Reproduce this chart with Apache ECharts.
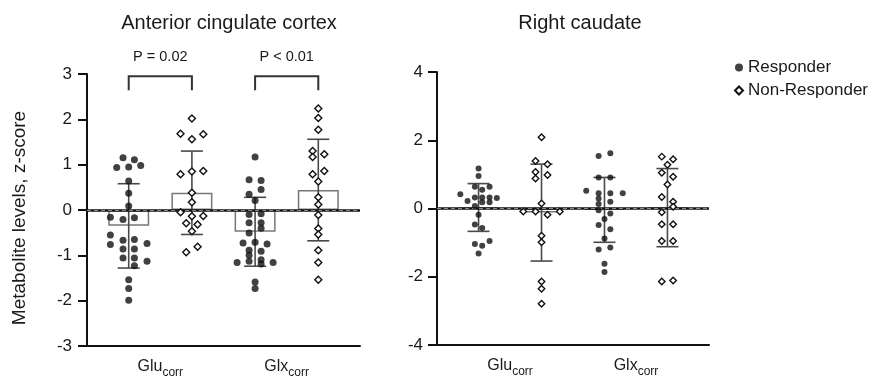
<!DOCTYPE html>
<html><head><meta charset="utf-8">
<script src="https://cdn.jsdelivr.net/npm/echarts@6/dist/echarts.min.js"></script>
<style>html,body{margin:0;padding:0;background:#fff}#c{width:876px;height:380px}</style>
</head><body><div id="c"></div>
<script>
// ---------- data ----------
const categories = ['Glu', 'Glx'];
const categorySub = 'corr';
const groupNames = ['Responder', 'Non-Responder'];
const panelTitles = ['Anterior cingulate cortex', 'Right caudate'];
const yAxisTitle = 'Metabolite levels, z-score';
const leftTicks = [-3, -2, -1, 0, 1, 2, 3];
const rightTicks = [-4, -2, 0, 2, 4];
const pLabels = ['P = 0.02', 'P < 0.01'];

// Anterior cingulate cortex: values and swarm offsets (fraction of a column)
const accRespGlu = [1.15, 1.11, 0.94, 0.95, 0.98, 0.64, 0.37, 0.09, -0.16, -0.21, -0.17, -0.55, -0.76, -0.67, -0.65, -0.74, -0.86, -0.86, -1.06, -1.06, -1.13, -1.23, -1.54, -1.73, -1.99];
const accRespGluJit = [-0.09, 0.09, -0.19, 0, 0.19, 0, 0, 0, -0.29, -0.09, 0.09, -0.29, -0.29, -0.09, 0.09, 0.29, -0.09, 0.09, -0.09, 0.09, 0.29, 0.09, 0, 0, 0];
const accNonGlu = [2.02, 1.68, 1.56, 1.67, 0.79, 0.85, 0.86, 0.38, 0.17, -0.05, -0.14, -0.13, -0.29, -0.32, -0.47, -0.93, -0.81];
const accNonGluJit = [0, -0.18, 0, 0.18, -0.18, 0, 0.18, 0, 0, -0.18, 0, 0.18, -0.09, 0.09, 0, -0.09, 0.09];
const accRespGlx = [1.17, 0.67, 0.65, 0.35, 0.45, 0.21, -0.10, -0.08, -0.28, -0.28, -0.40, -0.51, -0.73, -0.71, -0.75, -0.89, -0.91, -1.00, -1.16, -1.13, -1.10, -1.16, -1.19, -1.59, -1.73];
const accRespGlxJit = [0, -0.095, 0.095, -0.095, 0.095, 0, -0.095, 0.095, -0.095, 0.095, 0.095, -0.095, -0.19, 0, 0.19, -0.095, 0.095, -0.095, -0.285, -0.095, 0.095, 0.285, 0.095, 0, 0];
const accNonGlx = [2.24, 2.03, 1.77, 1.30, 1.17, 1.23, 0.79, 0.86, 0.63, 0.28, 0.12, -0.11, -0.41, -0.54, -0.89, -1.16, -1.54];
const accNonGlxJit = [0, 0, 0, -0.09, -0.09, 0.095, -0.09, 0.095, 0, 0, 0, 0, 0, 0, 0, 0, 0];
// order: Resp Glu, NonResp Glu, Resp Glx, NonResp Glx
const accMean = [-0.35, 0.38, -0.48, 0.44];
const accSD = [0.93, 0.92, 0.76, 1.12];

// Right caudate
const rcRespGlu = [1.17, 0.95, 0.64, 0.64, 0.55, 0.42, 0.22, 0.32, 0.32, 0.32, 0.31, 0.07, 0.18, 0.18, -0.18, -0.47, -0.57, -1.04, -1.09, -0.95, -1.32];
const rcRespGluJit = [0, 0, -0.058, 0.175, 0.058, -0.29, -0.175, -0.058, 0.058, 0.175, 0.29, -0.058, 0.058, 0.175, 0, -0.058, 0.058, -0.058, 0.058, 0.175, 0];
const rcNonGlu = [2.09, 1.39, 1.30, 1.07, 0.88, 0.98, 0.15, -0.09, -0.09, -0.18, -0.09, -0.80, -0.99, -2.14, -2.35, -2.79];
const rcNonGluJit = [0, -0.095, 0.095, -0.095, -0.095, 0.095, 0, -0.29, -0.095, 0.095, 0.29, 0, 0, 0, 0, 0];
const rcRespGlx = [1.54, 1.62, 0.91, 0.91, 0.52, 0.45, 0.45, 0.45, 0.29, 0.20, 0.13, -0.05, -0.31, -0.15, -0.48, -0.61, -0.88, -1.20, -1.14, -1.62, -1.86];
const rcRespGlxJit = [-0.093, 0.093, -0.093, 0.093, -0.29, -0.093, 0.093, 0.29, -0.093, 0.093, -0.093, -0.093, 0, 0.093, -0.093, 0.093, 0, -0.093, 0.093, 0, 0];
const rcNonGlx = [1.52, 1.44, 1.28, 1.05, 0.93, 0.70, 0.34, 0.20, 0.05, -0.11, -0.46, -0.46, -0.95, -0.95, -2.14, -2.11];
const rcNonGlxJit = [-0.09, 0.09, 0, -0.09, 0.09, 0, -0.09, 0.09, 0.09, -0.09, -0.09, 0.09, -0.09, 0.09, -0.09, 0.09];
const rcMean = [0.03, -0.12, -0.04, 0.025];
const rcSD = [0.70, 1.42, 0.95, 1.145];

// ---------- styles ----------
const FONT = 'Liberation Sans, Arial, Helvetica, sans-serif';
const TXT = '#1a1a1a';

function swarm(vals, jit, col) { return vals.map((v, i) => [col + jit[i], v]); }

function yAxisFor(gi, ticks, margin, withName) {
  return {
    type: 'value', gridIndex: gi,
    min: ticks[0], max: ticks[ticks.length - 1], interval: ticks[1] - ticks[0],
    axisLine: { show: true, onZero: false, lineStyle: { color: '#111', width: 2 } },
    axisTick: { show: true, length: 9, lineStyle: { color: '#111', width: 2 } },
    axisLabel: { margin: margin, fontSize: 17, color: TXT, fontFamily: FONT },
    splitLine: { show: false },
    name: withName ? yAxisTitle : '',
    nameLocation: 'middle', nameGap: 58, nameRotate: 90,
    nameTextStyle: { fontSize: 19, color: TXT, fontFamily: FONT, padding: [0, 16, 0, 0] }
  };
}
function xAxisFor(gi) {
  return {
    type: 'value', gridIndex: gi, min: -0.66, max: 3.66,
    axisLine: { show: true, onZero: false, lineStyle: { color: '#111', width: 2 } },
    axisTick: { show: false },
    splitLine: { show: false },
    axisLabel: {
      customValues: [0.5, 2.5], margin: 9, color: TXT, fontFamily: FONT,
      formatter: function (v) { const c = categories[Math.round((v - 0.5) / 2)]; return '{b|' + c + '}{s|' + categorySub + '}'; },
      rich: {
        b: { fontSize: 16, color: TXT, fontFamily: FONT, verticalAlign: 'bottom', lineHeight: 20 },
        s: { fontSize: 12, color: TXT, fontFamily: FONT, verticalAlign: 'bottom', lineHeight: 12, padding: [0, 0, -4, 0] }
      }
    }
  };
}
function barSeries(gi, means) {
  return {
    type: 'bar', xAxisIndex: gi, yAxisIndex: gi, barWidth: 41, z: 1, silent: true,
    data: means.map((m, i) => [i, m]),
    itemStyle: { color: '#fff', borderColor: '#777', borderWidth: 1.5 },
    markLine: {
      silent: true, symbol: 'none', label: { show: false },
      data: [
        { yAxis: 0, lineStyle: { type: 'solid', color: '#111', width: 2.6 } },
        { yAxis: 0, lineStyle: { type: [4, 3], color: '#888', width: 1.2 } }
      ]
    }
  };
}
function errorSeries(gi, means, sds) {
  return {
    type: 'custom', xAxisIndex: gi, yAxisIndex: gi, z: 3, silent: true,
    encode: { x: 0, y: [1, 2] },
    data: means.map((m, i) => [i, m - sds[i], m + sds[i]]),
    renderItem: function (params, api) {
      const x = api.value(0);
      const lo = api.coord([x, api.value(1)]);
      const hi = api.coord([x, api.value(2)]);
      const cw = 11, st = { stroke: '#4a4a4a', lineWidth: 1.6 };
      return { type: 'group', children: [
        { type: 'line', shape: { x1: lo[0], y1: lo[1], x2: hi[0], y2: hi[1] }, style: st },
        { type: 'line', shape: { x1: lo[0] - cw, y1: lo[1], x2: lo[0] + cw, y2: lo[1] }, style: st },
        { type: 'line', shape: { x1: hi[0] - cw, y1: hi[1], x2: hi[0] + cw, y2: hi[1] }, style: st }
      ] };
    }
  };
}
function scatterSeries(gi, name, data, isResp, size) {
  return {
    type: 'scatter', name: name, xAxisIndex: gi, yAxisIndex: gi, z: 5, silent: true,
    symbol: isResp ? 'circle' : 'diamond', symbolSize: size,
    itemStyle: isResp ? { color: '#111' } : { color: '#fff', borderColor: '#111', borderWidth: 1.4, opacity: 1 },
    data: data
  };
}
const bracketSeries = {
  type: 'custom', xAxisIndex: 0, yAxisIndex: 0, z: 6, silent: true, clip: false,
  data: [[0, 1, 2.64, 2.95, 0], [2, 3, 2.64, 2.95, 1]],
  renderItem: function (params, api) {
    const a = api.coord([api.value(0), api.value(2)]);
    const b = api.coord([api.value(1), api.value(3)]);
    const st = { stroke: '#333', lineWidth: 2, fill: null };
    return { type: 'group', children: [
      { type: 'polyline', shape: { points: [[a[0], a[1]], [a[0], b[1]], [b[0], b[1]], [b[0], a[1]]] }, style: st },
      { type: 'text', x: (a[0] + b[0]) / 2, y: b[1] - 19,
        style: { text: pLabels[api.value(4)], fill: TXT, font: '14.5px ' + FONT, align: 'center', verticalAlign: 'middle' } }
    ] };
  }
};

const chart = echarts.init(document.getElementById('c'), null, { renderer: 'canvas' });
chart.setOption({
  animation: false,
  backgroundColor: '#fff',
  title: [
    { text: panelTitles[0], left: 224, top: 8, textAlign: 'center', textStyle: { fontSize: 20, fontWeight: 'normal', color: TXT, fontFamily: FONT } },
    { text: panelTitles[1], left: 575, top: 8, textAlign: 'center', textStyle: { fontSize: 20, fontWeight: 'normal', color: TXT, fontFamily: FONT } }
  ],
  legend: {
    orient: 'vertical', left: 729, top: 54, itemGap: 6, itemWidth: 8, itemHeight: 8,
    textStyle: { fontSize: 17, color: TXT, fontFamily: FONT },
    data: [{ name: groupNames[0], icon: 'circle' }, { name: groupNames[1], icon: 'diamond' }],
    selectedMode: false
  },
  grid: [
    { left: 87, top: 74, width: 273, height: 272 },
    { left: 437, top: 72, width: 272, height: 273 }
  ],
  xAxis: [xAxisFor(0), xAxisFor(1)],
  yAxis: [yAxisFor(0, leftTicks, 15, true), yAxisFor(1, rightTicks, 14, false)],
  series: [
    barSeries(0, accMean),
    barSeries(1, rcMean),
    errorSeries(0, accMean, accSD),
    errorSeries(1, rcMean, rcSD),
    scatterSeries(0, groupNames[0], swarm(accRespGlu, accRespGluJit, 0).concat(swarm(accRespGlx, accRespGlxJit, 2)), true, 7),
    scatterSeries(0, groupNames[1], swarm(accNonGlu, accNonGluJit, 1).concat(swarm(accNonGlx, accNonGlxJit, 3)), false, 7),
    scatterSeries(1, groupNames[0], swarm(rcRespGlu, rcRespGluJit, 0).concat(swarm(rcRespGlx, rcRespGlxJit, 2)), true, 6),
    scatterSeries(1, groupNames[1], swarm(rcNonGlu, rcNonGluJit, 1).concat(swarm(rcNonGlx, rcNonGlxJit, 3)), false, 6.5),
    bracketSeries
  ]
});
</script></body></html>
